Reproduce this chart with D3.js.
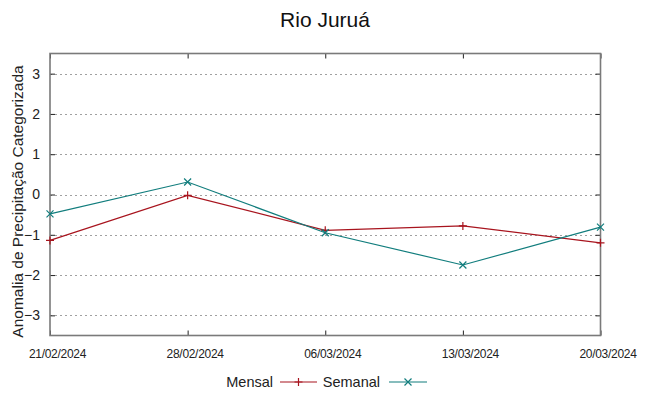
<!DOCTYPE html>
<html><head><meta charset="utf-8">
<script src="https://cdn.jsdelivr.net/npm/d3@7"></script>
<style>body{margin:0;background:#fff}svg{display:block;font-family:"Liberation Sans",Arial,sans-serif}</style>
</head><body><svg id="c" width="649" height="396"></svg>
<script>
const dates = ["21/02/2024","28/02/2024","06/03/2024","13/03/2024","20/03/2024"];
const mensal = [-1.14, -0.02, -0.89, -0.78, -1.20];
const semanal = [-0.48, 0.31, -0.95, -1.75, -0.81];
const yTicks = [-3,-2,-1,0,1,2,3];
const title = "Rio Juruá";
const yLabel = "Anomalia de Precipitação Categorizada";
const seriesNames = ["Mensal","Semanal"];

const svg = d3.select("#c");
const L=50, R=600.5, T=53.5, B=335.5;
const x = d3.scalePoint().domain(dates).range([L,R]);
const y = d3.scaleLinear().domain([-3.5,3.5]).range([B,T]);
const cM = "#a8141e", cS = "#117d7d";

// grid
svg.append("g").selectAll("line").data(yTicks).join("line")
  .attr("x1",L).attr("x2",R).attr("y1",d=>Math.round(y(d))+0.5).attr("y2",d=>Math.round(y(d))+0.5)
  .attr("stroke","#a0a0a0").attr("stroke-width",1).attr("stroke-dasharray","2,3");

// axes with inward ticks
const gl = svg.append("g").attr("transform",`translate(${L},0)`)
  .call(d3.axisLeft(y).tickValues(yTicks).tickSize(-5).tickPadding(10).tickFormat(d3.format("d")));
const gr = svg.append("g").attr("transform",`translate(${R},0)`)
  .call(d3.axisRight(y).tickValues(yTicks).tickSize(-5).tickFormat(""));
const gb = svg.append("g").attr("transform",`translate(0,${B})`)
  .call(d3.axisBottom(x).tickSize(-5).tickPadding(12));
const gt = svg.append("g").attr("transform",`translate(0,${T})`)
  .call(d3.axisTop(x).tickSize(-5).tickFormat(""));
[gl,gr,gb,gt].forEach(g=>{g.select(".domain").remove(); g.selectAll(".tick line").attr("stroke","#222");});
gl.selectAll("text").attr("font-size",14).attr("fill","#222").attr("font-family","Liberation Sans, Arial");
gb.selectAll("text").attr("font-size",11.5).attr("fill","#222").attr("dx",7).attr("dy","0.9em")
  .attr("font-family","Liberation Sans Narrow, Liberation Sans, Arial").attr("transform","scale(1,1)");
gb.selectAll("text").attr("font-family","Liberation Sans").attr("font-size",12).attr("letter-spacing","-0.3px");

// frame
svg.append("rect").attr("x",L).attr("y",T).attr("width",R-L).attr("height",B-T)
  .attr("fill","none").attr("stroke","#7a7a7a").attr("stroke-width",1.6);

// lines
const line = d3.line().x((d,i)=>x(dates[i])).y(d=>y(d));
svg.append("path").datum(mensal).attr("d",line).attr("fill","none").attr("stroke",cM).attr("stroke-width",1.2);
svg.append("path").datum(semanal).attr("d",line).attr("fill","none").attr("stroke",cS).attr("stroke-width",1.2);

const plus = (g,cx,cy,s,c)=>{g.append("path").attr("d",`M${cx-s},${cy}H${cx+s}M${cx},${cy-s}V${cy+s}`).attr("stroke",c).attr("stroke-width",1.2).attr("fill","none");};
const cross = (g,cx,cy,s,c)=>{g.append("path").attr("d",`M${cx-s},${cy-s}L${cx+s},${cy+s}M${cx-s},${cy+s}L${cx+s},${cy-s}`).attr("stroke",c).attr("stroke-width",1.2).attr("fill","none");};
const mg = svg.append("g");
mensal.forEach((v,i)=>plus(mg,x(dates[i]),y(v),4,cM));
semanal.forEach((v,i)=>cross(mg,x(dates[i]),y(v),3.5,cS));

// title
svg.append("text").attr("x",325).attr("y",27).attr("text-anchor","middle").attr("font-size",21).attr("fill","#111").text(title);
// y label
svg.append("text").attr("transform",`translate(23,${(T+B)/2+7}) rotate(-90)`).attr("text-anchor","middle")
  .attr("font-size",15.5).attr("fill","#222").text(yLabel);

// legend
const ly = 382;
svg.append("text").attr("x",273).attr("y",ly+5).attr("text-anchor","end").attr("font-size",14.5).attr("fill","#222").text(seriesNames[0]);
svg.append("line").attr("x1",280).attr("x2",317).attr("y1",ly).attr("y2",ly).attr("stroke",cM).attr("stroke-width",1.2);
plus(svg,298.5,ly,4,cM);
svg.append("text").attr("x",380).attr("y",ly+5).attr("text-anchor","end").attr("font-size",14.5).attr("fill","#222").text(seriesNames[1]);
svg.append("line").attr("x1",389).attr("x2",427).attr("y1",ly).attr("y2",ly).attr("stroke",cS).attr("stroke-width",1.2);
cross(svg,408,ly,3.5,cS);
</script></body></html>
